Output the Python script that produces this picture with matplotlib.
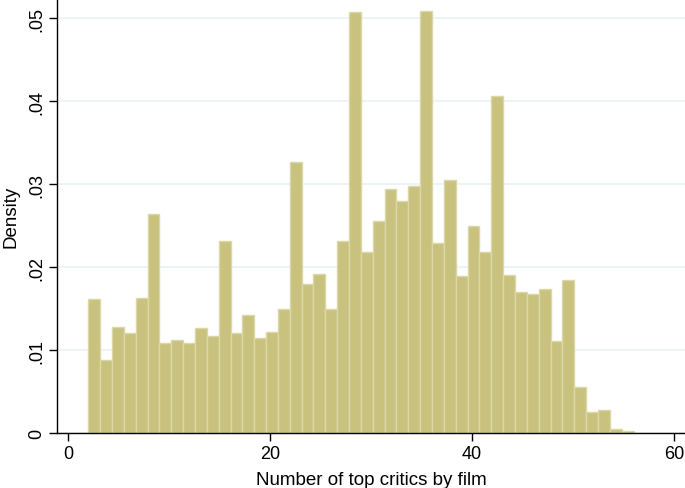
import numpy as np
import matplotlib.pyplot as plt

# histogram of number of top critics per film (density scale)
bin_start = 2.0
bin_end = 56.0
density = [0.0162, 0.0088, 0.0128, 0.0120, 0.0163, 0.0264, 0.0108, 0.0112,
           0.0108, 0.0126, 0.0117, 0.0231, 0.0120, 0.0142, 0.0115, 0.0122,
           0.0150, 0.0327, 0.0179, 0.0192, 0.0149, 0.0231, 0.0507, 0.0218,
           0.0256, 0.0294, 0.0280, 0.0298, 0.0508, 0.0229, 0.0305, 0.0189,
           0.0250, 0.0218, 0.0406, 0.0190, 0.0170, 0.0167, 0.0173, 0.0111,
           0.0184, 0.0056, 0.0025, 0.0028, 0.0005, 0.0002]
xticks = [0, 20, 40, 60]
yticks = [0, 0.01, 0.02, 0.03, 0.04, 0.05]
ytick_labels = ["0", ".01", ".02", ".03", ".04", ".05"]

edges = np.linspace(bin_start, bin_end, len(density) + 1)
widths = np.diff(edges)

plt.rcParams['font.family'] = ['Liberation Sans', 'DejaVu Sans']

fig = plt.figure(figsize=(6.85, 4.89), dpi=100)
ax = fig.add_axes([57.5 / 685, 55 / 489, 1 - 57.5 / 685, 434 / 489])

ax.bar(edges[:-1], density, width=widths, align='edge',
       color='#c9c27f', edgecolor='#dcd7a6', linewidth=1.0, zorder=2)

ax.set_xlim(-1.05, 61.1)
ax.set_ylim(0, 0.0523)
ax.set_xticks(xticks)
ax.set_yticks(yticks)
ax.set_yticklabels(ytick_labels, rotation=90, va='center')
ax.yaxis.grid(True, color='#eaf2f3', linewidth=1.2, zorder=0)
ax.set_axisbelow(True)

for side in ['top', 'right']:
    ax.spines[side].set_visible(False)
for side in ['left', 'bottom']:
    ax.spines[side].set_linewidth(1.0)
ax.tick_params(axis='both', length=6, width=1.0, labelsize=13, pad=3)

ax.set_xlabel('Number of top critics by film', fontsize=13.5, labelpad=6)
ax.set_ylabel('Density', fontsize=13.5, labelpad=6)

fig.savefig('out.png', dpi=100)
